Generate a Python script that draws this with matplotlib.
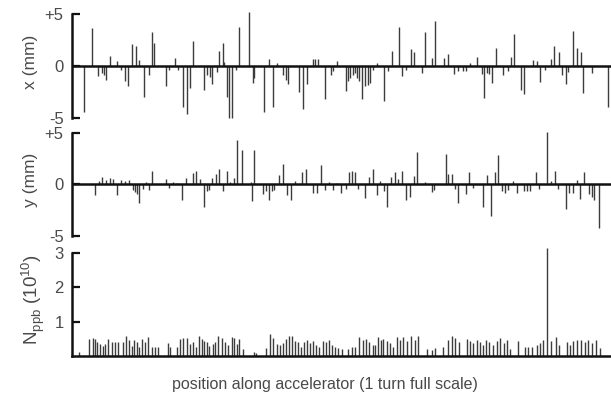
import matplotlib
matplotlib.use('Agg')
import matplotlib.pyplot as plt

plt.rcParams['font.family'] = ['Liberation Sans', 'DejaVu Sans']

# ring circumference (m); one turn = full x scale
C = 539

# horizontal orbit at the monitors
x_pos = [12, 19.7, 26.3, 29.7, 32, 34, 38, 45.3, 49, 52.7, 56.3, 60.3, 64, 67.3, 72.3, 77.3,
         80, 82, 94.3, 97.3, 103, 106.3, 110.7, 114.7, 118, 121.3, 132.3, 135.3, 138, 140.3,
         144.7, 147.3, 150.7, 152, 155.3, 157.3, 160.3, 163.7, 167.3, 177.3, 180.7, 182,
         192.3, 196.7, 201.3, 204.7, 211.3, 214, 216.3, 227, 231.3, 234.7,
         240.7, 243.3, 246.3, 253, 259, 261.3, 265.3, 274, 276.3, 278, 280.7, 283, 285.3,
         287.3, 290.3, 293, 295.7, 298, 301.3, 305.3, 312, 316.3, 319.7, 327, 330.3, 334,
         338.7, 342.3, 350.3, 353.3, 359.7, 362.7, 372, 375.7, 382.3, 386.3, 391.3, 394,
         398, 404.7, 409.7, 412.3, 414.7, 417.3, 420, 423.7, 431.3, 436.3, 439, 442.3,
         448.7, 452, 461.3, 464.7, 468, 473, 478.7, 482.3, 487, 489.7, 493.7, 496.3,
         500.7, 504.7, 508.7, 511.3, 520.3, 536.3]
x_mm = [-4.4, 3.7, -1.0, -0.7, -0.9, -1.3, 1.0, 0.5, -0.4, -1.4, -1.9, 2.1, 1.9, 0.6, -3.0, -0.9,
        3.3, 2.2, -1.9, -0.4, 0.8, -0.4, -3.9, -4.6, -2.1, 2.4, -2.3, -0.9, -1.1, -1.7,
        -0.6, 1.4, 2.2, 0.4, -3.0, -5.0, -5.0, -0.4, 3.8, 5.2, -1.6, -1.2,
        -4.4, 0.7, -3.9, 0.3, -0.9, -1.3, -1.7, -2.5, -4.1, -1.7,
        0.7, 0.7, 0.7, -3.2, -0.9, -0.5, 0.5, -2.4, -1.4, -1.2, -0.9, -0.7, -1.2,
        -1.4, -3.2, -1.9, -1.8, -1.6, -0.4, 0.3, -3.4, -0.5, 1.4, 3.8, -1.0, -0.4,
        1.6, 1.3, -0.7, 3.3, 0.8, 4.3, 0.8, 1.2, -0.8, -0.5, -0.5, -0.5,
        0.3, 0.9, -0.8, -3.1, -0.7, -0.8, -1.6, 1.7, -0.9, -0.5, 0.9, 3.1,
        -2.3, -2.7, 0.6, 0.5, -1.5, -0.4, 0.7, 1.9, 1.3, -0.9, -1.7, -0.6,
        3.4, 1.7, 1.3, -2.6, -0.7, -3.9]

# vertical orbit at the monitors
y_pos = [23, 27, 29.7, 34, 38, 40.7, 44.7, 48.7, 52.7, 56.7, 60.7, 63, 65.3, 67.3, 70.7, 73.7,
         77, 80.3, 93.7, 97.3, 101.3, 105.3, 109.7, 113.7, 120.7, 124, 128, 132.3, 134.7, 137,
         140.3, 144, 147, 150.7, 154.7, 158, 162, 165.3, 169.7, 178.7, 180.3, 182.3, 191.3,
         193.7, 196.7, 199.7, 202.3, 207.3, 211.3, 214.7, 219, 223, 230.3, 234,
         241.3, 245.3, 249, 253, 257.3, 261.3, 264.7, 268.7, 274, 277.3, 279.7, 283, 286.3,
         293, 297, 300.7, 304.7, 308, 312, 315.3, 318.7, 323, 325.7, 329.7, 334, 338, 342,
         344.7, 353, 359.7, 362.3, 374, 376.3, 379.7, 383, 386.3, 393.7, 397, 400.7, 411.3,
         415.3, 419.3, 423, 426.3, 429.7, 433, 436.3, 441.3, 445.3, 452, 454.7, 458, 463.7,
         467.3, 474.7, 478.7, 483, 486.3, 493.7, 497.3, 500.7, 504.7, 508, 512, 517.3, 520,
         522.3, 527.3]
y_mm = [-1.0, 0.3, 0.7, 0.4, 0.6, 0.5, -1.0, 0.4, 0.3, 0.4, -0.5, -0.7, -0.9, -1.8, -0.4, 0.2,
        -0.5, 1.3, 0.5, -0.3, 0.2, 0.1, -1.5, 0.6, 1.1, 1.3, 0.5, -2.2, -0.6, -0.5,
        0.6, 1.0, 1.5, -0.6, 1.3, 0.2, 0.6, 4.3, 3.3, 0.2, -1.6, 3.3, -0.9,
        -0.6, -1.5, -0.6, -0.5, 0.9, 2.0, -1.0, -1.5, 0.3, 1.2, 1.5,
        -0.8, -0.8, 1.9, -0.5, 0.2, -0.5, 0.1, -0.8, -0.4, 1.2, 1.3, 1.2, -0.4,
        -1.3, 0.7, 1.5, -1.0, 0.3, -0.6, -2.2, 0.7, 1.2, 0.5, 1.3, -1.5, -1.2, 0.8,
        3.2, 0.2, -0.7, -0.5, 3.0, 1.0, 1.0, -0.4, -1.8, -0.9, 1.2, -0.3, -2.2,
        0.9, -3.1, 1.2, 2.9, -0.6, -0.8, -0.5, 0.3, -0.8, -0.6, -0.6, -0.6, 1.2,
        -0.4, 5.1, 0.3, 1.3, -0.4, -2.4, -0.8, -0.8, 0.4, -1.4, 1.2, -0.9, -1.2,
        -1.5, -4.2]

# bunch population per monitor (1e10)
n_pos = [7.3, 17.3, 20.7, 23, 25.3, 28, 30.7, 33.3, 36, 39.7, 43, 46.3, 50.7, 54, 57.3, 59.7,
         62.3, 64.7, 67.3, 69.7, 73, 76.3, 79.7, 83, 86, 95.7, 98, 104.7, 108, 111.3, 114.7,
         118, 120.7, 124, 127.3, 129.7, 132.3, 134.7, 137.3, 140.7, 143, 146.3, 149.7, 153,
         156.3, 159.7, 162, 164.7, 167.3, 171.3, 182, 184, 194, 198, 201.3, 204.7, 208,
         211.3, 214, 217, 220.3, 223, 226.3,
         228.7, 232, 235.3, 238, 241.3, 244, 247.3, 250.7, 254, 257.3, 259.7, 263, 266.3,
         269.7, 276.3, 279.7, 283, 287.3, 290.7, 294, 297.3, 300.7, 303, 305.7, 308.7, 311.3,
         314.7, 318, 320.7, 324.7, 328, 331.3, 335.3, 339, 343, 346.3, 354.7, 359.7, 363,
         370.7, 376.3, 379.7, 383, 387.3, 394.7, 398, 401.3, 404.7, 408, 410.7, 414, 417.3,
         420.7, 424.7, 428, 432, 435.3, 438, 446.3, 453, 456.3, 459.7, 464.7, 468, 471.3,
         475.3, 478.7, 484, 487.3, 494.7, 498, 501.3, 505.3, 509, 513, 516.3, 519.7, 523.7,
         528]
n_ppb = [0.13, 0.5, 0.52, 0.5, 0.42, 0.35, 0.3, 0.35, 0.5, 0.4, 0.4, 0.4, 0.4, 0.57, 0.47, 0.3,
         0.47, 0.4, 0.27, 0.5, 0.4, 0.55, 0.25, 0.25, 0.25, 0.37, 0.25, 0.25, 0.5, 0.52, 0.52,
         0.35, 0.42, 0.27, 0.57, 0.5, 0.45, 0.4, 0.3, 0.35, 0.4, 0.57, 0.52, 0.4,
         0.32, 0.55, 0.52, 0.35, 0.5, 0.2, 0.13, 0.1, 0.23, 0.65, 0.52, 0.35, 0.32,
         0.37, 0.5, 0.57, 0.57, 0.45, 0.42,
         0.27, 0.4, 0.47, 0.37, 0.43, 0.33, 0.27, 0.43, 0.4, 0.47, 0.33, 0.25, 0.23,
         0.2, 0.2, 0.25, 0.27, 0.54, 0.47, 0.5, 0.4, 0.33, 0.33, 0.54, 0.47, 0.5,
         0.43, 0.37, 0.27, 0.54, 0.47, 0.54, 0.43, 0.59, 0.47, 0.59, 0.2, 0.17, 0.23,
         0.27, 0.47, 0.59, 0.52, 0.4, 0.5, 0.43, 0.37, 0.47, 0.4, 0.33, 0.47, 0.4,
         0.33, 0.43, 0.52, 0.37, 0.47, 0.2, 0.43, 0.27, 0.25, 0.27, 0.33, 0.37, 0.47,
         3.15, 0.43, 0.54, 0.33, 0.4, 0.33, 0.43, 0.47, 0.47, 0.4, 0.47, 0.37, 0.47,
         0.23]

txt = '#4a4a4a'
bar = '#3c3c3c'

fig = plt.figure(figsize=(6.11, 3.97), dpi=100)
W, H = 611.0, 397.0
left, width = 72 / W, 539 / W

ax1 = fig.add_axes([left, (H - 124.2) / H, width, 116.4 / H])
ax2 = fig.add_axes([left, (H - 242.2) / H, width, 115.4 / H])
ax3 = fig.add_axes([left, (H - 356) / H, width, 110 / H])

for ax, pos, val, lab, yc in [(ax1, x_pos, x_mm, 'x (mm)', 62), (ax2, y_pos, y_mm, 'y (mm)', 180)]:
    ax.vlines(pos, 0, val, color=bar, lw=1.0)
    ax.axhline(0, color='#111111', lw=1.8)
    ax.set_xlim(0, C)
    ax.set_ylim(-5.6, 5.6)
    ax.set_yticks([-5, 0, 5], ['-5', '0', '+5'])
    ax.spines['left'].set_bounds(-5, 5)
    fig.text(31 / W, 1 - yc / H, lab, rotation=90, ha='center', va='center',
             fontsize=12.5, color=txt)

ax3.vlines(n_pos, 0, n_ppb, color=bar, lw=1.0)
ax3.set_xlim(0, C)
ax3.set_ylim(0, 3.2)
ax3.set_yticks([1, 2, 3], ['1', '2', '3'])
ax3.spines['left'].set_bounds(0, 3)
ax3.spines['bottom'].set_visible(True)
ax3.spines['bottom'].set_linewidth(1.8)
ax3.spines['bottom'].set_color('#111111')
fig.text(33 / W, 1 - 300 / H, r'N$_{\mathregular{ppb}}$ (10$^{\mathregular{10}}$)', rotation=90,
         ha='center', va='center', fontsize=13.5, color=txt)

for ax in (ax1, ax2, ax3):
    for s in ('top', 'right'):
        ax.spines[s].set_visible(False)
    if ax is not ax3:
        ax.spines['bottom'].set_visible(False)
    ax.spines['left'].set_linewidth(1.8)
    ax.spines['left'].set_color('#111111')
    ax.set_xticks([])
    ax.tick_params(axis='y', direction='in', length=6, width=1.6, color='#111111',
                   labelsize=12, labelcolor=txt, pad=6)
    ax.patch.set_alpha(0)

fig.text(325 / W, 1 - 385 / H, 'position along accelerator (1 turn full scale)',
         ha='center', va='center', fontsize=11.5, color=txt)

fig.savefig('out.png', dpi=100)
